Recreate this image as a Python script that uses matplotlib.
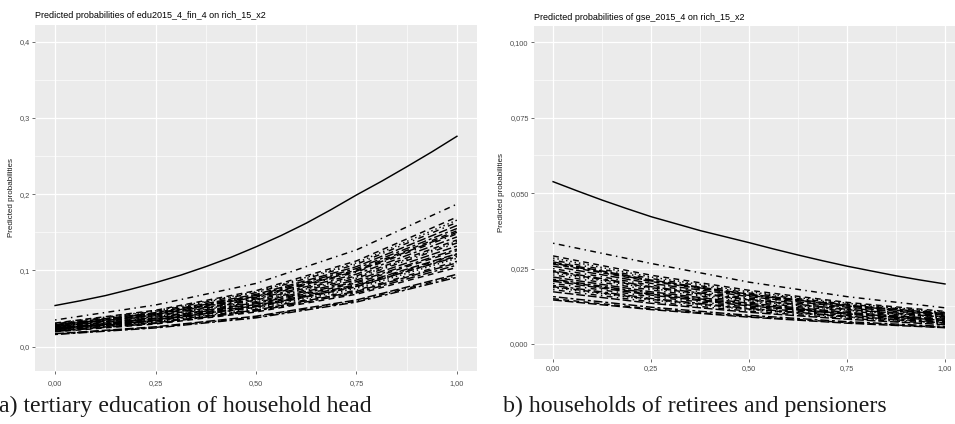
import matplotlib
matplotlib.use("Agg")
import matplotlib.pyplot as plt
from matplotlib.ticker import FixedLocator

# ---------------- data ----------------
x_fine = [0.0, 0.0625, 0.125, 0.1875, 0.25, 0.3125, 0.375, 0.4375, 0.5,
          0.5625, 0.625, 0.6875, 0.75, 0.8125, 0.875, 0.9375, 1.0]
x_coarse = [0.0, 0.25, 0.5, 0.75, 1.0]

# panel (a): edu2015_4_fin_4
left_main = [0.054, 0.0602, 0.067, 0.0752, 0.084, 0.0938, 0.105, 0.1172, 0.131,
             0.1458, 0.162, 0.180, 0.199, 0.217, 0.236, 0.2555, 0.276]
left_second = [0.035, 0.0547, 0.083, 0.127, 0.187]
left_bundle = [
    [0.0310, 0.0478, 0.0735, 0.1125, 0.170],
    [0.0305, 0.0470, 0.0720, 0.1100, 0.166],
    [0.0300, 0.0462, 0.0708, 0.1080, 0.163],
    [0.0290, 0.0447, 0.0686, 0.1050, 0.159],
    [0.0285, 0.0438, 0.0672, 0.1025, 0.155],
    [0.0280, 0.0430, 0.0660, 0.1005, 0.152],
    [0.0275, 0.0423, 0.0650, 0.0990, 0.150],
    [0.0270, 0.0416, 0.0640, 0.0978, 0.148],
    [0.0265, 0.0407, 0.0625, 0.0952, 0.144],
    [0.0260, 0.0399, 0.0612, 0.0928, 0.140],
    [0.0255, 0.0392, 0.0602, 0.0912, 0.138],
    [0.0250, 0.0384, 0.0590, 0.0898, 0.136],
    [0.0245, 0.0376, 0.0577, 0.0875, 0.132],
    [0.0240, 0.0368, 0.0563, 0.0852, 0.128],
    [0.0235, 0.0361, 0.0553, 0.0836, 0.126],
    [0.0230, 0.0352, 0.0539, 0.0813, 0.122],
    [0.0225, 0.0345, 0.0529, 0.0800, 0.121],
    [0.0225, 0.0344, 0.0525, 0.0790, 0.118],
    [0.0220, 0.0337, 0.0518, 0.0785, 0.119],
    [0.0215, 0.0329, 0.0505, 0.0765, 0.116],
    [0.0210, 0.0321, 0.0490, 0.0740, 0.112],
    [0.0205, 0.0313, 0.0480, 0.0725, 0.110],
    [0.0200, 0.0306, 0.0468, 0.0706, 0.107],
    [0.0195, 0.0298, 0.0455, 0.0688, 0.104],
    [0.0170, 0.0261, 0.0400, 0.0613, 0.095],
    [0.0165, 0.0253, 0.0388, 0.0598, 0.093],
    [0.0160, 0.0246, 0.0378, 0.0585, 0.091],
]

# panel (b): gse_2015_4
right_main = [0.0538, 0.0507, 0.0477, 0.0449, 0.0422, 0.0399, 0.0376, 0.0356, 0.0336,
              0.0315, 0.0295, 0.0276, 0.0258, 0.0242, 0.0226, 0.0212, 0.0199]
right_second = [0.0334, 0.0267, 0.0205, 0.0157, 0.0120]
right_bundle = [
    [0.0292, 0.0228, 0.0178, 0.0138, 0.0108],
    [0.0285, 0.0222, 0.0173, 0.0135, 0.0105],
    [0.0278, 0.0217, 0.0169, 0.0132, 0.0103],
    [0.0272, 0.0212, 0.0165, 0.0129, 0.0101],
    [0.0268, 0.0209, 0.0163, 0.0127, 0.0099],
    [0.0265, 0.0207, 0.0161, 0.0126, 0.0098],
    [0.0258, 0.0201, 0.0157, 0.0122, 0.0095],
    [0.0250, 0.0195, 0.0152, 0.0119, 0.0093],
    [0.0243, 0.0190, 0.0148, 0.0115, 0.0090],
    [0.0240, 0.0187, 0.0146, 0.0114, 0.0089],
    [0.0236, 0.0184, 0.0143, 0.0112, 0.0087],
    [0.0229, 0.0179, 0.0139, 0.0109, 0.0085],
    [0.0222, 0.0173, 0.0135, 0.0105, 0.0082],
    [0.0215, 0.0168, 0.0131, 0.0102, 0.0080],
    [0.0212, 0.0165, 0.0129, 0.0100, 0.0078],
    [0.0208, 0.0162, 0.0126, 0.0099, 0.0077],
    [0.0201, 0.0157, 0.0122, 0.0095, 0.0074],
    [0.0194, 0.0151, 0.0118, 0.0092, 0.0072],
    [0.0190, 0.0148, 0.0116, 0.0090, 0.0070],
    [0.0187, 0.0146, 0.0114, 0.0089, 0.0069],
    [0.0180, 0.0140, 0.0109, 0.0085, 0.0067],
    [0.0173, 0.0135, 0.0105, 0.0082, 0.0064],
    [0.0157, 0.0122, 0.0095, 0.0074, 0.0058],
    [0.0150, 0.0117, 0.0091, 0.0071, 0.0055],
    [0.0146, 0.0114, 0.0089, 0.0069, 0.0054],
]

x_ticks = [0.0, 0.25, 0.5, 0.75, 1.0]
x_ticklabels = ["0,00", "0,25", "0,50", "0,75", "1,00"]
left_yticks = [0.0, 0.1, 0.2, 0.3, 0.4]
left_yticklabels = ["0,0", "0,1", "0,2", "0,3", "0,4"]
right_yticks = [0.0, 0.025, 0.05, 0.075, 0.1]
right_yticklabels = ["0,000", "0,025", "0,050", "0,075", "0,100"]

left_title = "Predicted probabilities of edu2015_4_fin_4 on rich_15_x2"
right_title = "Predicted probabilities of gse_2015_4 on rich_15_x2"
y_label = "Predicted probabilities"
left_caption = "a) tertiary education of household head"
right_caption = "b) households of retirees and pensioners"

# ---------------- styling ----------------
W, H = 955, 424
fig = plt.figure(figsize=(W / 100, H / 100), dpi=100)
fig.patch.set_facecolor("white")

def px_axes(l, t, r, b):
    return fig.add_axes([l / W, 1 - b / H, (r - l) / W, (b - t) / H])

dash_cycle = [
    (4, 3),          # dashed
    (1, 2),          # dotted
    (1, 3, 4, 3),    # dotdash
    (6, 2),          # longdash
    (2, 2, 6, 2),    # twodash
    (4, 3),
    (6, 2),
    (1, 3, 4, 3),
    (2, 2, 6, 2),
]

LW = 1.05

def style(ax, yticks, yticklabels, ylim, ylab_x, xpad):
    ax.set_facecolor("#EBEBEB")
    for s in ax.spines.values():
        s.set_visible(False)
    ax.set_xlim(-0.05, 1.05)
    ax.set_ylim(*ylim)
    ax.xaxis.set_major_locator(FixedLocator(x_ticks))
    ax.set_xticklabels(x_ticklabels)
    ax.xaxis.set_minor_locator(FixedLocator([0.125, 0.375, 0.625, 0.875]))
    ax.yaxis.set_major_locator(FixedLocator(yticks))
    ax.set_yticklabels(yticklabels)
    step = yticks[1] - yticks[0]
    ax.yaxis.set_minor_locator(FixedLocator([v + step / 2 for v in yticks[:-1]]))
    ax.grid(which="major", color="white", linewidth=0.9)
    ax.grid(which="minor", color="white", linewidth=0.45)
    ax.set_axisbelow(True)
    ax.tick_params(which="major", length=2, width=0.5, color="#333333",
                   labelsize=5.3, labelcolor="#4D4D4D", pad=1.5)
    ax.tick_params(axis="x", which="major", pad=xpad)
    ax.tick_params(which="minor", length=0)
    ax.set_ylabel(y_label, fontsize=5.8, color="#1A1A1A", family="Liberation Sans")
    ax.yaxis.set_label_coords(ylab_x, 0.5)
    for lab in ax.get_xticklabels() + ax.get_yticklabels():
        lab.set_family("Liberation Sans")

def draw(ax, main, second, bundle):
    for i, row in enumerate(bundle):
        ax.plot(x_coarse, row, color="black", linewidth=LW,
                dashes=dash_cycle[i % len(dash_cycle)], solid_capstyle="butt")
    ax.plot(x_coarse, second, color="black", linewidth=LW, dashes=(1, 3, 4, 3))
    ax.plot(x_fine, main, color="black", linewidth=LW)

axL = px_axes(35, 25, 477, 370.7)
axR = px_axes(533.5, 26, 964.6, 359.3)

style(axL, left_yticks, left_yticklabels, (-0.0315, 0.422), -0.045, 4.5)
style(axR, right_yticks, right_yticklabels, (-0.00507, 0.1054), -0.066, 2.0)

draw(axL, left_main, left_second, left_bundle)
draw(axR, right_main, right_second, right_bundle)

fig.text(35 / W, 1 - 16 / H, left_title, fontsize=6.45, va="center", ha="left",
         family="Liberation Sans", color="black")
fig.text(534 / W, 1 - 17.5 / H, right_title, fontsize=6.45, va="center", ha="left",
         family="Liberation Sans", color="black")

fig.text(-1 / W, 1 - 412 / H, left_caption, fontsize=17.2, va="baseline", ha="left",
         family="Liberation Serif", color="#1A1A1A")
fig.text(503 / W, 1 - 412 / H, right_caption, fontsize=17.2, va="baseline", ha="left",
         family="Liberation Serif", color="#1A1A1A")

fig.savefig("out.png", dpi=100, facecolor="white")
